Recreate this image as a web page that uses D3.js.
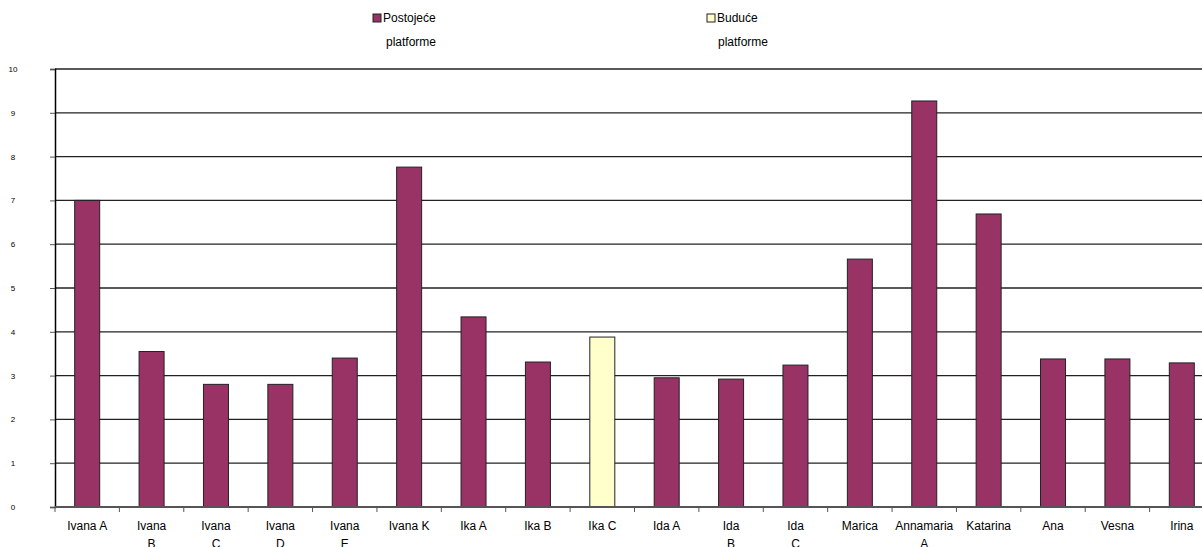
<!DOCTYPE html>
<html lang="hr">
<head>
<meta charset="utf-8">
<title>Platforme</title>
<script src="https://cdn.jsdelivr.net/npm/d3@7/dist/d3.min.js"></script>
<style>
  body { margin: 0; background: #fff; overflow: hidden; }
  svg text { font-family: "Liberation Sans", Arial, sans-serif; fill: #000; }
</style>
</head>
<body>
<script>
// categories and values
var categories = ["Ivana A", "Ivana B", "Ivana C", "Ivana D", "Ivana E", "Ivana K",
                  "Ika A", "Ika B", "Ika C", "Ida A", "Ida B", "Ida C",
                  "Marica", "Annamaria A", "Katarina", "Ana", "Vesna", "Irina"];
var values = [7.0, 3.55, 2.8, 2.8, 3.4, 7.76, 4.34, 3.31, 3.88, 2.95, 2.92, 3.24,
              5.66, 9.27, 6.69, 3.38, 3.38, 3.29];
// which series each bar belongs to (0 = postojeće, 1 = buduće)
var seriesOf = [0, 0, 0, 0, 0, 0, 0, 0, 1, 0, 0, 0, 0, 0, 0, 0, 0, 0];
var seriesNames = [["Postojeće", "platforme"], ["Buduće", "platforme"]];
var seriesColors = ["#993366", "#ffffcc"];
var yTicks = [0, 1, 2, 3, 4, 5, 6, 7, 8, 9, 10];
// labels that wrap onto two lines in the original
var wrapped = ["Ivana B", "Ivana C", "Ivana D", "Ivana E", "Ida B", "Ida C", "Annamaria A"];

(function() {
var W = 1202, H = 547;
var mLeft = 55, mRight = 1214, mTop = 69, mBottom = 507;

var svg = d3.select("body").append("svg")
    .attr("width", W)
    .attr("height", H);

var x = d3.scaleBand()
    .domain(categories)
    .range([mLeft, mRight])
    .paddingInner(0)
    .paddingOuter(0);

var y = d3.scaleLinear()
    .domain([0, 10])
    .range([mBottom, mTop]);

// gridlines
svg.append("g")
    .selectAll("line")
    .data(yTicks.filter(function(d) { return d > 0; }))
    .enter().append("line")
    .attr("x1", mLeft)
    .attr("x2", mRight)
    .attr("y1", function(d) { return y(d); })
    .attr("y2", function(d) { return y(d); })
    .attr("stroke", "#222")
    .attr("stroke-width", 1.3);

// y axis
var yAxis = svg.append("g")
    .attr("transform", "translate(" + mLeft + ",0)")
    .call(d3.axisLeft(y).tickValues(yTicks).tickSize(5).tickPadding(30));
yAxis.select(".domain").attr("stroke", "#000").attr("stroke-width", 1.5);
yAxis.selectAll(".tick line").attr("stroke", "#555");
yAxis.selectAll("text")
    .attr("font-size", "8px")
    .attr("text-anchor", "middle")
    .attr("x", -42)
    .attr("font-family", "DejaVu Sans, sans-serif");

// bars
var bw = 25;
svg.append("g")
    .selectAll("rect")
    .data(categories)
    .enter().append("rect")
    .attr("x", function(d) { return x(d) + x.bandwidth() / 2 - bw / 2; })
    .attr("y", function(d, i) { return y(values[i]); })
    .attr("width", bw)
    .attr("height", function(d, i) { return mBottom - y(values[i]); })
    .attr("fill", function(d, i) { return seriesColors[seriesOf[i]]; })
    .attr("stroke", "#222")
    .attr("stroke-width", 1);

// x axis
var xAxis = svg.append("g")
    .attr("transform", "translate(0," + mBottom + ")");
xAxis.append("line")
    .attr("x1", mLeft).attr("x2", mRight)
    .attr("y1", 0).attr("y2", 0)
    .attr("stroke", "#555").attr("stroke-width", 2);
xAxis.selectAll(".xtick")
    .data(categories)
    .enter().append("line")
    .attr("class", "xtick")
    .attr("x1", function(d) { return x(d); })
    .attr("x2", function(d) { return x(d); })
    .attr("y1", 0).attr("y2", 5)
    .attr("stroke", "#555");

var lbl = xAxis.selectAll(".xlabel")
    .data(categories)
    .enter().append("text")
    .attr("class", "xlabel")
    .attr("text-anchor", "middle")
    .attr("font-size", "12px")
    .attr("x", function(d) { return x(d) + x.bandwidth() / 2; })
    .attr("y", 23);
lbl.each(function(d) {
    var t = d3.select(this);
    var cx = x(d) + x.bandwidth() / 2;
    if (wrapped.indexOf(d) >= 0) {
        var parts = d.split(" ");
        t.append("tspan").attr("x", cx).text(parts[0]);
        t.append("tspan").attr("x", cx).attr("dy", 18).text(parts[1]);
    } else {
        t.text(d);
    }
});

// legend
var legendX = [373, 707];
var legend = svg.append("g")
    .selectAll("g")
    .data(seriesNames)
    .enter().append("g")
    .attr("transform", function(d, i) { return "translate(" + legendX[i] + ",14)"; });
legend.append("rect")
    .attr("width", 8).attr("height", 8)
    .attr("fill", function(d, i) { return seriesColors[i]; })
    .attr("stroke", "#222");
legend.append("text")
    .attr("x", 10).attr("y", 8)
    .attr("font-size", "12px")
    .text(function(d) { return d[0]; });
legend.append("text")
    .attr("x", function(d, i) { return i === 0 ? 13 : 11; }).attr("y", 32)
    .attr("font-size", "12px")
    .text(function(d) { return d[1]; });
})();
</script>
</body>
</html>
